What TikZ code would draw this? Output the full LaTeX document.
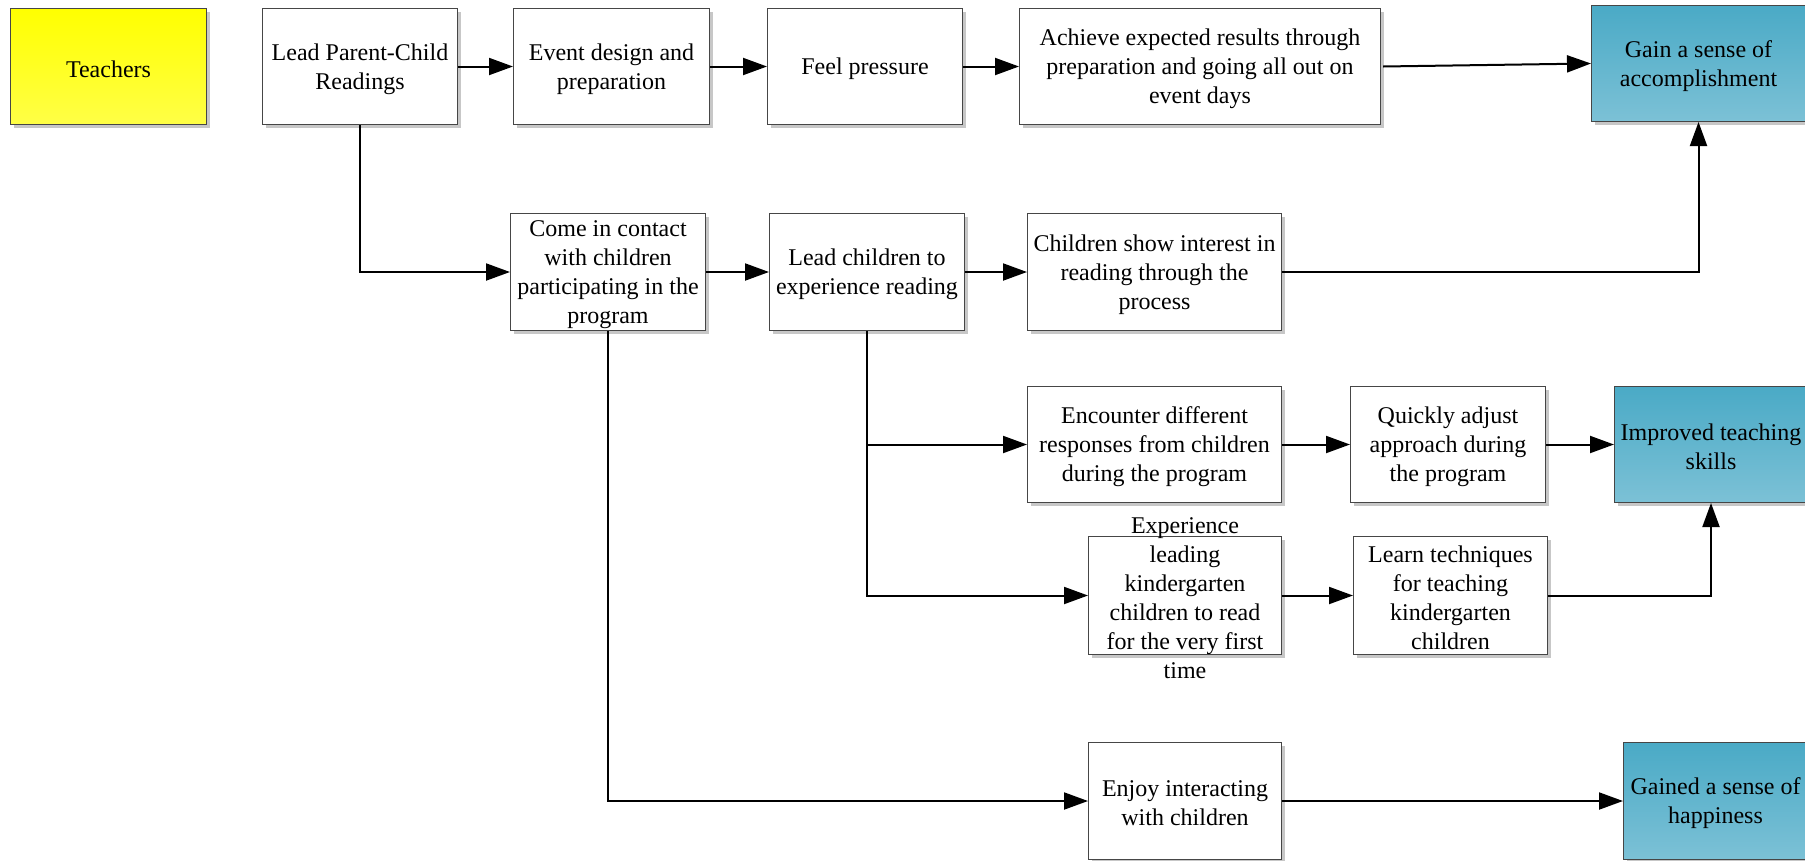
\documentclass[tikz,border=0pt]{standalone}
\usepackage{fontspec}
\setmainfont{Liberation Serif}
\usetikzlibrary{arrows.meta,shadows,calc}
\definecolor{tealtop}{RGB}{74,170,198}
\definecolor{tealbot}{RGB}{124,193,214}
\definecolor{yeltop}{RGB}{255,255,0}
\definecolor{yelbot}{RGB}{255,255,70}
\definecolor{bord}{RGB}{70,70,70}
\newcommand\bx[7]{%
  \node[#6, minimum width=#4pt, minimum height=#5pt] (#1) at (#2,#3) {};
  \node[txt] (#1t) at (#1.center) {#7};}
\begin{document}
\begin{tikzpicture}[x=1pt,y=-1pt,
  base/.style={draw=bord, line width=1pt, anchor=north west, inner sep=0pt,
    drop shadow={shadow xshift=3pt, shadow yshift=-3pt, fill=black, opacity=0.22}},
  wbox/.style={base, fill=white},
  ybox/.style={base, top color=yeltop, bottom color=yelbot},
  tbox/.style={base, top color=tealtop, bottom color=tealbot},
  txt/.style={font=\fontsize{24}{29}\selectfont, align=center, inner sep=0pt, yshift=-2.5pt},
  arr/.style={line width=2pt, -{Triangle[length=24pt,width=17pt]}},
  ln/.style={line width=2pt}]
\useasboundingbox (0,0) rectangle (1805,860);
\bx{teach}{10}{8}{196}{116}{ybox}{Teachers}
\bx{lpc}{262}{8}{195}{116}{wbox}{Lead Parent-Child\\Readings}
\bx{ed}{513}{8}{196}{116}{wbox}{Event design and\\preparation}
\bx{fp}{767}{8}{195}{116}{wbox}{Feel pressure}
\bx{ach}{1019}{8}{361}{116}{wbox}{Achieve expected results through\\preparation and going all out on\\event days}
\bx{gain}{1591}{5}{214}{116}{tbox}{Gain a sense of\\accomplishment}
\bx{cic}{510}{213}{195}{117}{wbox}{Come in contact\\with children\\participating in the\\program}
\bx{lcr}{769}{213}{195}{117}{wbox}{Lead children to\\experience reading}
\bx{csi}{1027}{213}{254}{117}{wbox}{Children show interest in\\reading through the\\process}
\bx{enc}{1027}{386}{254}{116}{wbox}{Encounter different\\responses from children\\during the program}
\bx{qa}{1350}{386}{195}{116}{wbox}{Quickly adjust\\approach during\\the program}
\bx{imp}{1614}{386}{193}{116}{tbox}{Improved teaching\\skills}
\bx{exp}{1088}{536}{193}{118}{wbox}{Experience\\leading\\kindergarten\\children to read\\for the very first\\time}
\bx{lt}{1353}{536}{194}{118}{wbox}{Learn techniques\\for teaching\\kindergarten\\children}
\bx{enj}{1088}{742}{193}{117}{wbox}{Enjoy interacting\\with children}
\bx{hap}{1623}{742}{184}{117}{tbox}{Gained a sense of\\happiness}
% connectors
\draw[arr] (lpc.east) -- (ed.west);
\draw[arr] (ed.east) -- (fp.west);
\draw[arr] (fp.east) -- (ach.west);
\draw[arr] ([xshift=2pt]ach.east) -- (gain.west);
\draw[arr] (lpc.south) |- (cic.west);
\draw[arr] (cic.east) -- (lcr.west);
\draw[arr] (lcr.east) -- (csi.west);
\draw[arr] (csi.east) -| (gain.south);
\draw[arr] (lcr.south) |- (exp.west);
\coordinate (br) at (lcr.south |- enc.west);
\draw[arr] (br) -- (enc.west);
\draw[arr] (enc.east) -- (qa.west);
\draw[arr] (qa.east) -- (imp.west);
\draw[arr] (exp.east) -- (lt.west);
\draw[arr] (lt.east) -| (imp.south);
\draw[arr] (cic.south) |- (enj.west);
\draw[arr] (enj.east) -- (hap.west);
\end{tikzpicture}
\end{document}
